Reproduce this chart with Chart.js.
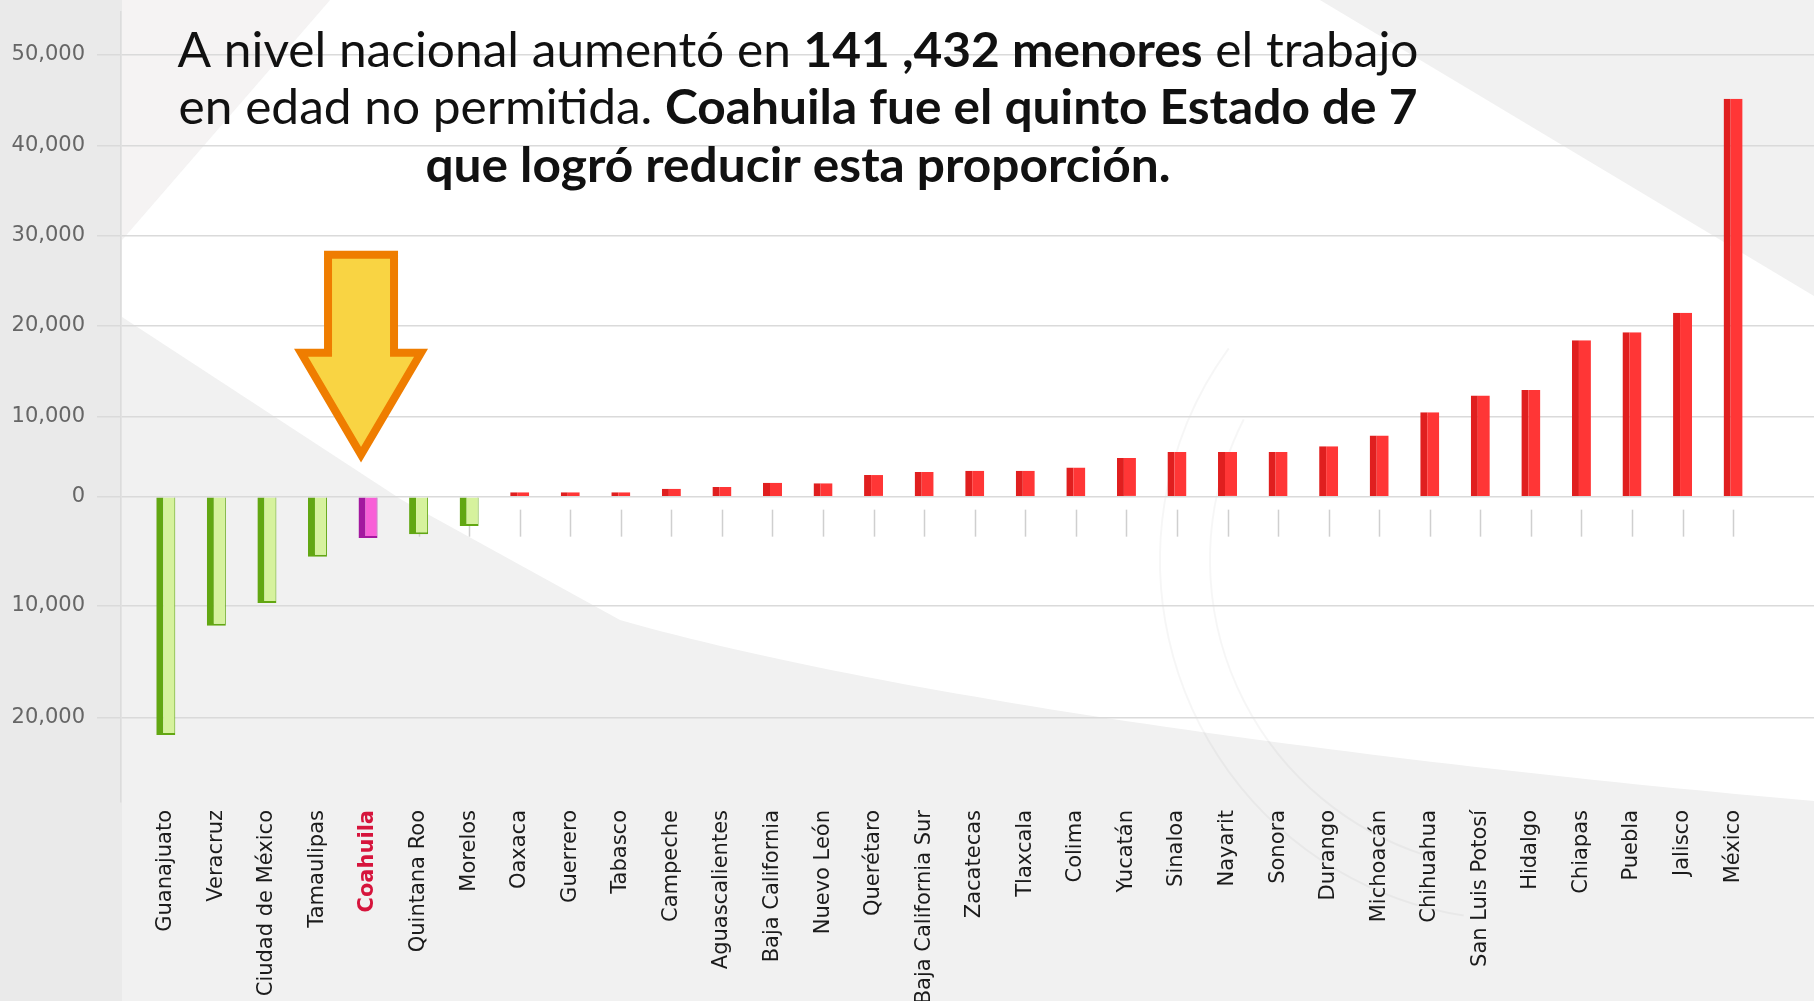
<!DOCTYPE html>
<html>
<head>
<meta charset="utf-8">
<script src="https://cdn.jsdelivr.net/npm/chart.js@4.4.0/dist/chart.umd.min.js"></script>
<style>
  html, body { margin: 0; padding: 0; background: #fff; }
  canvas { display: block; }
</style>
</head>
<body>
<canvas id="chart" width="1814" height="1001"></canvas>
<script>
// States, ordered as in the original chart
const states = [
  'Guanajuato', 'Veracruz', 'Ciudad de México', 'Tamaulipas', 'Coahuila',
  'Quintana Roo', 'Morelos', 'Oaxaca', 'Guerrero', 'Tabasco', 'Campeche',
  'Aguascalientes', 'Baja California', 'Nuevo León', 'Querétaro',
  'Baja California Sur', 'Zacatecas', 'Tlaxcala', 'Colima', 'Yucatán',
  'Sinaloa', 'Nayarit', 'Sonora', 'Durango', 'Michoacán', 'Chihuahua',
  'San Luis Potosí', 'Hidalgo', 'Chiapas', 'Puebla', 'Jalisco', 'México'
];

// Change in number of working minors
const changes = [
  -21600, -11800, -9750, -5500, -3800, -3450, -2700,
  550, 550, 550, 1000, 1200, 1750, 1670, 2700, 3090, 3250, 3250, 3630,
  4840, 5590, 5590, 5590, 6300, 7630, 10490, 12320, 12950, 18430,
  19320, 21480, 45140
];

const highlight = 'Coahuila';

// y axis tick values
const yTicks = [-20000, -10000, 0, 10000, 20000, 30000, 40000, 50000];

// Title lines: [text, bold]
const titleLines = [
  [['A nivel nacional aumentó en ', false], ['141 ,432 menores', true], [' el trabajo', false]],
  [['en edad no permitida. ', false], ['Coahuila fue el quinto Estado de 7', true]],
  [['que logró reducir esta proporción.', true]]
];

// The original axis is not linear: each stretch has its own spacing.
// [value, fraction of the axis height from the bottom]
const axisStops = [
  [-27700, 0], [-20000, 0.1072], [-10000, 0.2485], [0, 0.3865],
  [10000, 0.4878], [20000, 0.6025], [30000, 0.7165], [40000, 0.8308],
  [50000, 0.9465], [54630, 1]
];

class SegmentedScale extends Chart.LinearScale {
  static id = 'segmented';
  static defaults = Chart.LinearScale.defaults;

  getPixelForValue(value) {
    let i = 0;
    while (i < axisStops.length - 2 && value > axisStops[i + 1][0]) i++;
    const [v0, f0] = axisStops[i];
    const [v1, f1] = axisStops[i + 1];
    const f = f0 + (value - v0) / (v1 - v0) * (f1 - f0);
    return this.bottom - f * (this.bottom - this.top);
  }

  getValueForPixel(pixel) {
    const f = (this.bottom - pixel) / (this.bottom - this.top);
    let i = 0;
    while (i < axisStops.length - 2 && f > axisStops[i + 1][1]) i++;
    const [v0, f0] = axisStops[i];
    const [v1, f1] = axisStops[i + 1];
    return v0 + (f - f0) / (f1 - f0) * (v1 - v0);
  }
}
Chart.register(SegmentedScale);

// Background: grey sides with a white sweep across the middle
const backgroundPlugin = {
  id: 'background',
  beforeDraw(chart) {
    const ctx = chart.ctx;
    const w = chart.width, h = chart.height;
    ctx.save();
    ctx.fillStyle = '#f1f1f1';
    ctx.fillRect(0, 0, w, h);
    ctx.fillStyle = '#eaeaea';
    ctx.fillRect(0, 0, 122, h);
    ctx.fillStyle = '#f5f3f3';
    ctx.beginPath();
    ctx.moveTo(122, 0);
    ctx.lineTo(330, 0);
    ctx.lineTo(122, 240);
    ctx.closePath();
    ctx.fill();

    ctx.fillStyle = '#ffffff';
    ctx.beginPath();
    ctx.moveTo(330, 0);
    ctx.lineTo(1320, 0);
    ctx.lineTo(1814, 296);
    ctx.lineTo(1814, 801);
    ctx.bezierCurveTo(1400, 765, 900, 700, 620, 620);
    ctx.lineTo(402, 500);
    ctx.lineTo(122, 317);
    ctx.lineTo(122, 240);
    ctx.closePath();
    ctx.fill();

    // faint emblem lines on the right
    ctx.strokeStyle = 'rgba(0,0,0,0.035)';
    ctx.lineWidth = 2;
    ctx.beginPath();
    ctx.arc(1520, 560, 360, Math.PI * 0.55, Math.PI * 1.2);
    ctx.stroke();
    ctx.beginPath();
    ctx.arc(1520, 560, 310, Math.PI * 0.6, Math.PI * 1.15);
    ctx.stroke();
    ctx.restore();
  }
};

// Short marks under the zero line, one per state
const zeroTicksPlugin = {
  id: 'zeroTicks',
  beforeDatasetsDraw(chart) {
    const ctx = chart.ctx;
    const x = chart.scales.x, y = chart.scales.y;
    const y0 = y.getPixelForValue(0);
    ctx.save();
    ctx.strokeStyle = '#cfcfcf';
    ctx.lineWidth = 1.5;
    states.forEach((s, i) => {
      const px = Math.round(x.getPixelForValue(i)) + 0.5;
      ctx.beginPath();
      ctx.moveTo(px, y0 + 13);
      ctx.lineTo(px, y0 + 40);
      ctx.stroke();
    });
    ctx.restore();
  }
};

// Big arrow pointing at the highlighted state
const arrowPlugin = {
  id: 'arrow',
  afterDatasetsDraw(chart) {
    const ctx = chart.ctx;
    const cx = chart.scales.x.getPixelForValue(states.indexOf(highlight)) - 7;
    const y0 = chart.scales.y.getPixelForValue(0);
    ctx.save();
    ctx.beginPath();
    ctx.moveTo(cx - 33, y0 - 242);
    ctx.lineTo(cx + 33, y0 - 242);
    ctx.lineTo(cx + 33, y0 - 144);
    ctx.lineTo(cx + 60, y0 - 144);
    ctx.lineTo(cx, y0 - 42);
    ctx.lineTo(cx - 60, y0 - 144);
    ctx.lineTo(cx - 33, y0 - 144);
    ctx.closePath();
    ctx.fillStyle = '#f9d443';
    ctx.fill();
    ctx.lineJoin = 'miter';
    ctx.lineWidth = 8;
    ctx.strokeStyle = '#ef7d00';
    ctx.stroke();
    ctx.restore();
  }
};

// Title with bold runs, drawn over the grid
const titlePlugin = {
  id: 'richTitle',
  afterDraw(chart) {
    const ctx = chart.ctx;
    const size = 48;
    const fontOf = bold => (bold ? '700 ' : '400 ') + size + 'px Lato';
    const widthOf = line => line.reduce((sum, [t, b]) => {
      ctx.font = fontOf(b);
      return sum + ctx.measureText(t).width;
    }, 0);
    ctx.save();
    const sx = 1241 / widthOf(titleLines[0]); // condense like the original face
    const cx = 798;
    const baselines = [67, 124, 182];
    ctx.fillStyle = '#111';
    ctx.textBaseline = 'alphabetic';
    ctx.textAlign = 'left';
    titleLines.forEach((line, k) => {
      const w = widthOf(line) * sx;
      let x = cx - w / 2;
      line.forEach(([t, b]) => {
        ctx.font = fontOf(b);
        ctx.save();
        ctx.translate(x, baselines[k]);
        ctx.scale(sx, 1);
        ctx.fillText(t, 0, 0);
        ctx.restore();
        x += ctx.measureText(t).width * sx;
      });
    });
    ctx.restore();
  }
};

new Chart(document.getElementById('chart').getContext('2d'), {
  type: 'bar',
  data: {
    datasets: [
      {
        data: changes.map((v, i) => ({ x: i, y: v })),
        backgroundColor: changes.map((v, i) =>
          states[i] === highlight ? '#f85fd7' : v < 0 ? '#d6f29d' : '#ff3636'),
        borderColor: changes.map((v, i) =>
          states[i] === highlight ? '#a3189f' : v < 0 ? '#62a712' : '#e01f1f'),
        borderWidth: (ctx) => (ctx.raw && ctx.raw.y < 0)
          ? { top: 0, right: 1, bottom: 2, left: 7 }
          : { top: 0, right: 0, bottom: 0, left: 7 },
        borderSkipped: false,
        barThickness: 19,
        inflateAmount: 0,
      },
    ],
  },
  options: {
    responsive: false,
    devicePixelRatio: 1,
    animation: false,
    events: [],
    layout: { padding: { top: 12, left: 0, right: 0, bottom: 0 } },
    plugins: {
      legend: { display: false },
      title: { display: false },
      tooltip: { enabled: false },
    },
    scales: {
      x: {
        type: 'linear',
        min: -0.886,
        max: 32.6,
        offset: false,
        afterBuildTicks: (s) => { s.ticks = states.map((_, i) => ({ value: i })); },
        afterFit: (s) => {
          s.height = 199;
          s.paddingLeft = 0;
          s.paddingRight = 0;
        },
        grid: { display: false, drawTicks: false },
        border: { display: false },
        ticks: {
          autoSkip: false,
          minRotation: 90,
          maxRotation: 90,
          padding: 8,
          color: (ctx) => states[ctx.index] === highlight ? '#d6143c' : '#1b1b1b',
          font: (ctx) => ({
            family: 'DejaVu Sans',
            size: 21,
            weight: states[ctx.index] === highlight ? 'bold' : 'normal',
          }),
          callback: (v, i) => states[i],
        },
      },
      y: {
        type: 'segmented',
        min: -27700,
        max: 54630,
        afterBuildTicks: (s) => { s.ticks = yTicks.map((v) => ({ value: v })); },
        afterFit: (s) => {
          s.width = 121;
          s.paddingTop = 0;
          s.paddingBottom = 0;
        },
        grid: { color: '#dadada', lineWidth: 1.5, tickLength: 24 },
        border: { display: true, color: '#dcdcdc', width: 1.5 },
        ticks: {
          padding: 12,
          color: '#666',
          font: { family: 'DejaVu Sans', size: 21 },
          callback: (v) => Math.abs(v).toLocaleString('en-US'),
        },
      },
    },
  },
  plugins: [backgroundPlugin, zeroTicksPlugin, arrowPlugin, titlePlugin],
});
</script>
</body>
</html>
